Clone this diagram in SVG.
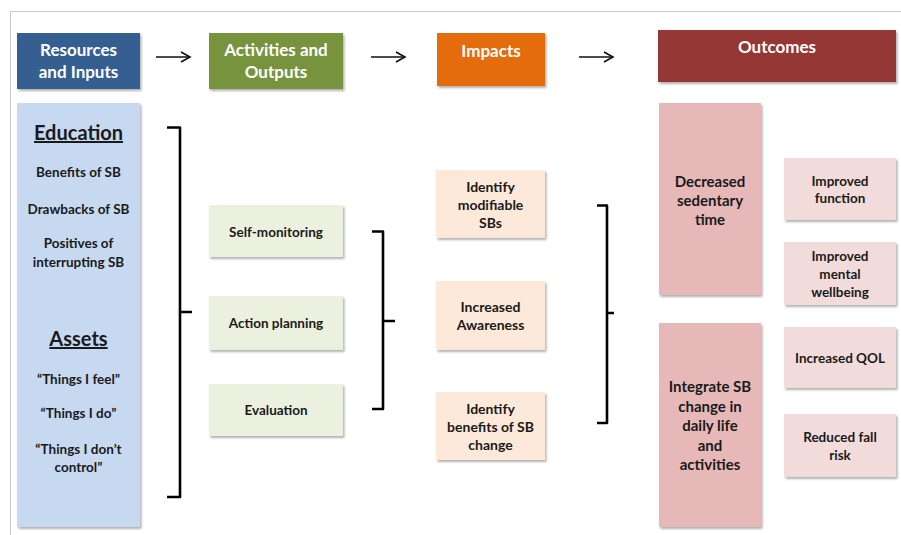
<svg xmlns="http://www.w3.org/2000/svg" width="901" height="535" viewBox="0 0 901 535">
<defs>
<filter id="sh" x="-10%" y="-10%" width="130%" height="130%">
<feDropShadow dx="1.5" dy="2" stdDeviation="1.2" flood-color="#000" flood-opacity="0.3"/>
</filter>
<marker id="ah" markerWidth="12" markerHeight="12" refX="10" refY="6" orient="auto" markerUnits="userSpaceOnUse">
<path d="M1,1 L10,6 L1,11" fill="none" stroke="#111" stroke-width="1.6"/>
</marker>
<style>
text{font-family:Lato,"Liberation Sans",sans-serif;font-weight:bold;text-anchor:middle}
.h{fill:#fff;font-size:17px}
.t{fill:#1a1a1a;font-size:13.5px}
.m{font-size:14px}
.l{font-size:15px}
.big{fill:#1a1a1a;font-size:20px;text-decoration:underline}
.br{fill:none;stroke:#000;stroke-width:2.6;stroke-linejoin:round}
.ar{stroke:#111;stroke-width:1.6;marker-end:url(#ah)}
rect{filter:url(#sh)}
</style>
</defs>
<rect x="0" y="0" width="901" height="535" fill="#fff" style="filter:none"/>
<path d="M10.5,535 L10.5,11.5 L901,11.5" fill="none" stroke="#c8c8c8" stroke-width="1"/>

<g id="resources"><rect x="17" y="33" width="123" height="56" fill="#355F91"/>
<text class="h" x="78.5" y="56">Resources</text><text class="h" x="78.5" y="78">and Inputs</text></g>
<g id="activities"><rect x="209" y="33" width="134" height="56" fill="#77933C"/>
<text class="h" x="276" y="56">Activities and</text><text class="h" x="276" y="78">Outputs</text></g>
<g id="impacts"><rect x="437" y="33" width="108" height="53" fill="#E46C0A"/>
<text class="h" x="491" y="57">Impacts</text></g>
<g id="outcomes"><rect x="658" y="30" width="238" height="52" fill="#953735"/>
<text class="h" x="777" y="53">Outcomes</text></g>

<g id="inputs-panel"><rect x="17" y="103" width="123" height="424" fill="#C6D9F1"/>
<text class="big" x="78.5" y="140">Education</text>
<text class="t" x="78.5" y="177">Benefits of SB</text>
<text class="t" x="78.5" y="214">Drawbacks of SB</text>
<text class="t" x="78.5" y="248">Positives of</text>
<text class="t" x="78.5" y="267">interrupting SB</text>
<text class="big" x="78.5" y="346">Assets</text>
<text class="t" x="78.5" y="384">“Things I feel”</text>
<text class="t" x="78.5" y="418">“Things I do”</text>
<text class="t" x="78.5" y="454">“Things I don’t</text>
<text class="t" x="78.5" y="472">control”</text></g>

<g id="self-monitoring"><rect x="209" y="205" width="134" height="52" fill="#EBF1DE"/><text class="t" x="276" y="237">Self-monitoring</text></g>
<g id="action-planning"><rect x="209" y="296" width="134" height="54" fill="#EBF1DE"/><text class="t" x="276" y="328">Action planning</text></g>
<g id="evaluation"><rect x="209" y="384" width="134" height="52" fill="#EBF1DE"/><text class="t" x="276" y="415">Evaluation</text></g>

<g id="identify-modifiable"><rect x="436" y="170" width="109" height="68" fill="#FDE9D9"/>
<text class="t m" x="490.5" y="192">Identify</text><text class="t m" x="490.5" y="210">modifiable</text><text class="t m" x="490.5" y="228">SBs</text></g>
<g id="increased-awareness"><rect x="436" y="281" width="109" height="69" fill="#FDE9D9"/>
<text class="t m" x="490.5" y="312">Increased</text><text class="t m" x="490.5" y="330">Awareness</text></g>
<g id="identify-benefits"><rect x="436" y="392" width="109" height="68" fill="#FDE9D9"/>
<text class="t m" x="490.5" y="414">Identify</text><text class="t m" x="490.5" y="432">benefits of SB</text><text class="t m" x="490.5" y="450">change</text></g>

<g id="decreased-sedentary"><rect x="659" y="103" width="102" height="192" fill="#E6B9B8"/>
<text class="t l" x="710" y="187">Decreased</text><text class="t l" x="710" y="206">sedentary</text><text class="t l" x="710" y="225">time</text></g>
<g id="integrate-sb"><rect x="659" y="323" width="102" height="204" fill="#E6B9B8"/>
<text class="t l" x="710" y="392">Integrate SB</text><text class="t l" x="710" y="412">change in</text><text class="t l" x="710" y="431">daily life</text><text class="t l" x="710" y="451">and</text><text class="t l" x="710" y="470">activities</text></g>

<g id="improved-function"><rect x="784" y="158" width="112" height="62" fill="#F2DCDB"/>
<text class="t" x="840" y="186">Improved</text><text class="t" x="840" y="203">function</text></g>
<g id="improved-mental"><rect x="784" y="242" width="112" height="63" fill="#F2DCDB"/>
<text class="t" x="840" y="261">Improved</text><text class="t" x="840" y="279">mental</text><text class="t" x="840" y="297">wellbeing</text></g>
<g id="increased-qol"><rect x="784" y="327" width="112" height="61" fill="#F2DCDB"/>
<text class="t" x="840" y="363">Increased QOL</text></g>
<g id="reduced-fall"><rect x="784" y="414" width="112" height="63" fill="#F2DCDB"/>
<text class="t" x="840" y="442">Reduced fall</text><text class="t" x="840" y="460">risk</text></g>

<g id="connectors">
<line class="ar" x1="156" y1="57" x2="190" y2="57"/>
<line class="ar" x1="371" y1="57" x2="405" y2="57"/>
<line class="ar" x1="579" y1="57" x2="613" y2="57"/>
<path class="br" d="M167,127.5 L180,127.5 L180,497 L167,497 M180,312 L192,312"/>
<path class="br" d="M372,231.5 L383,231.5 L383,409 L372,409 M383,321 L395,321"/>
<path class="br" d="M597,205.5 L607,205.5 L607,423 L597,423 M607,313 L614,313"/>
</g>
</svg>
